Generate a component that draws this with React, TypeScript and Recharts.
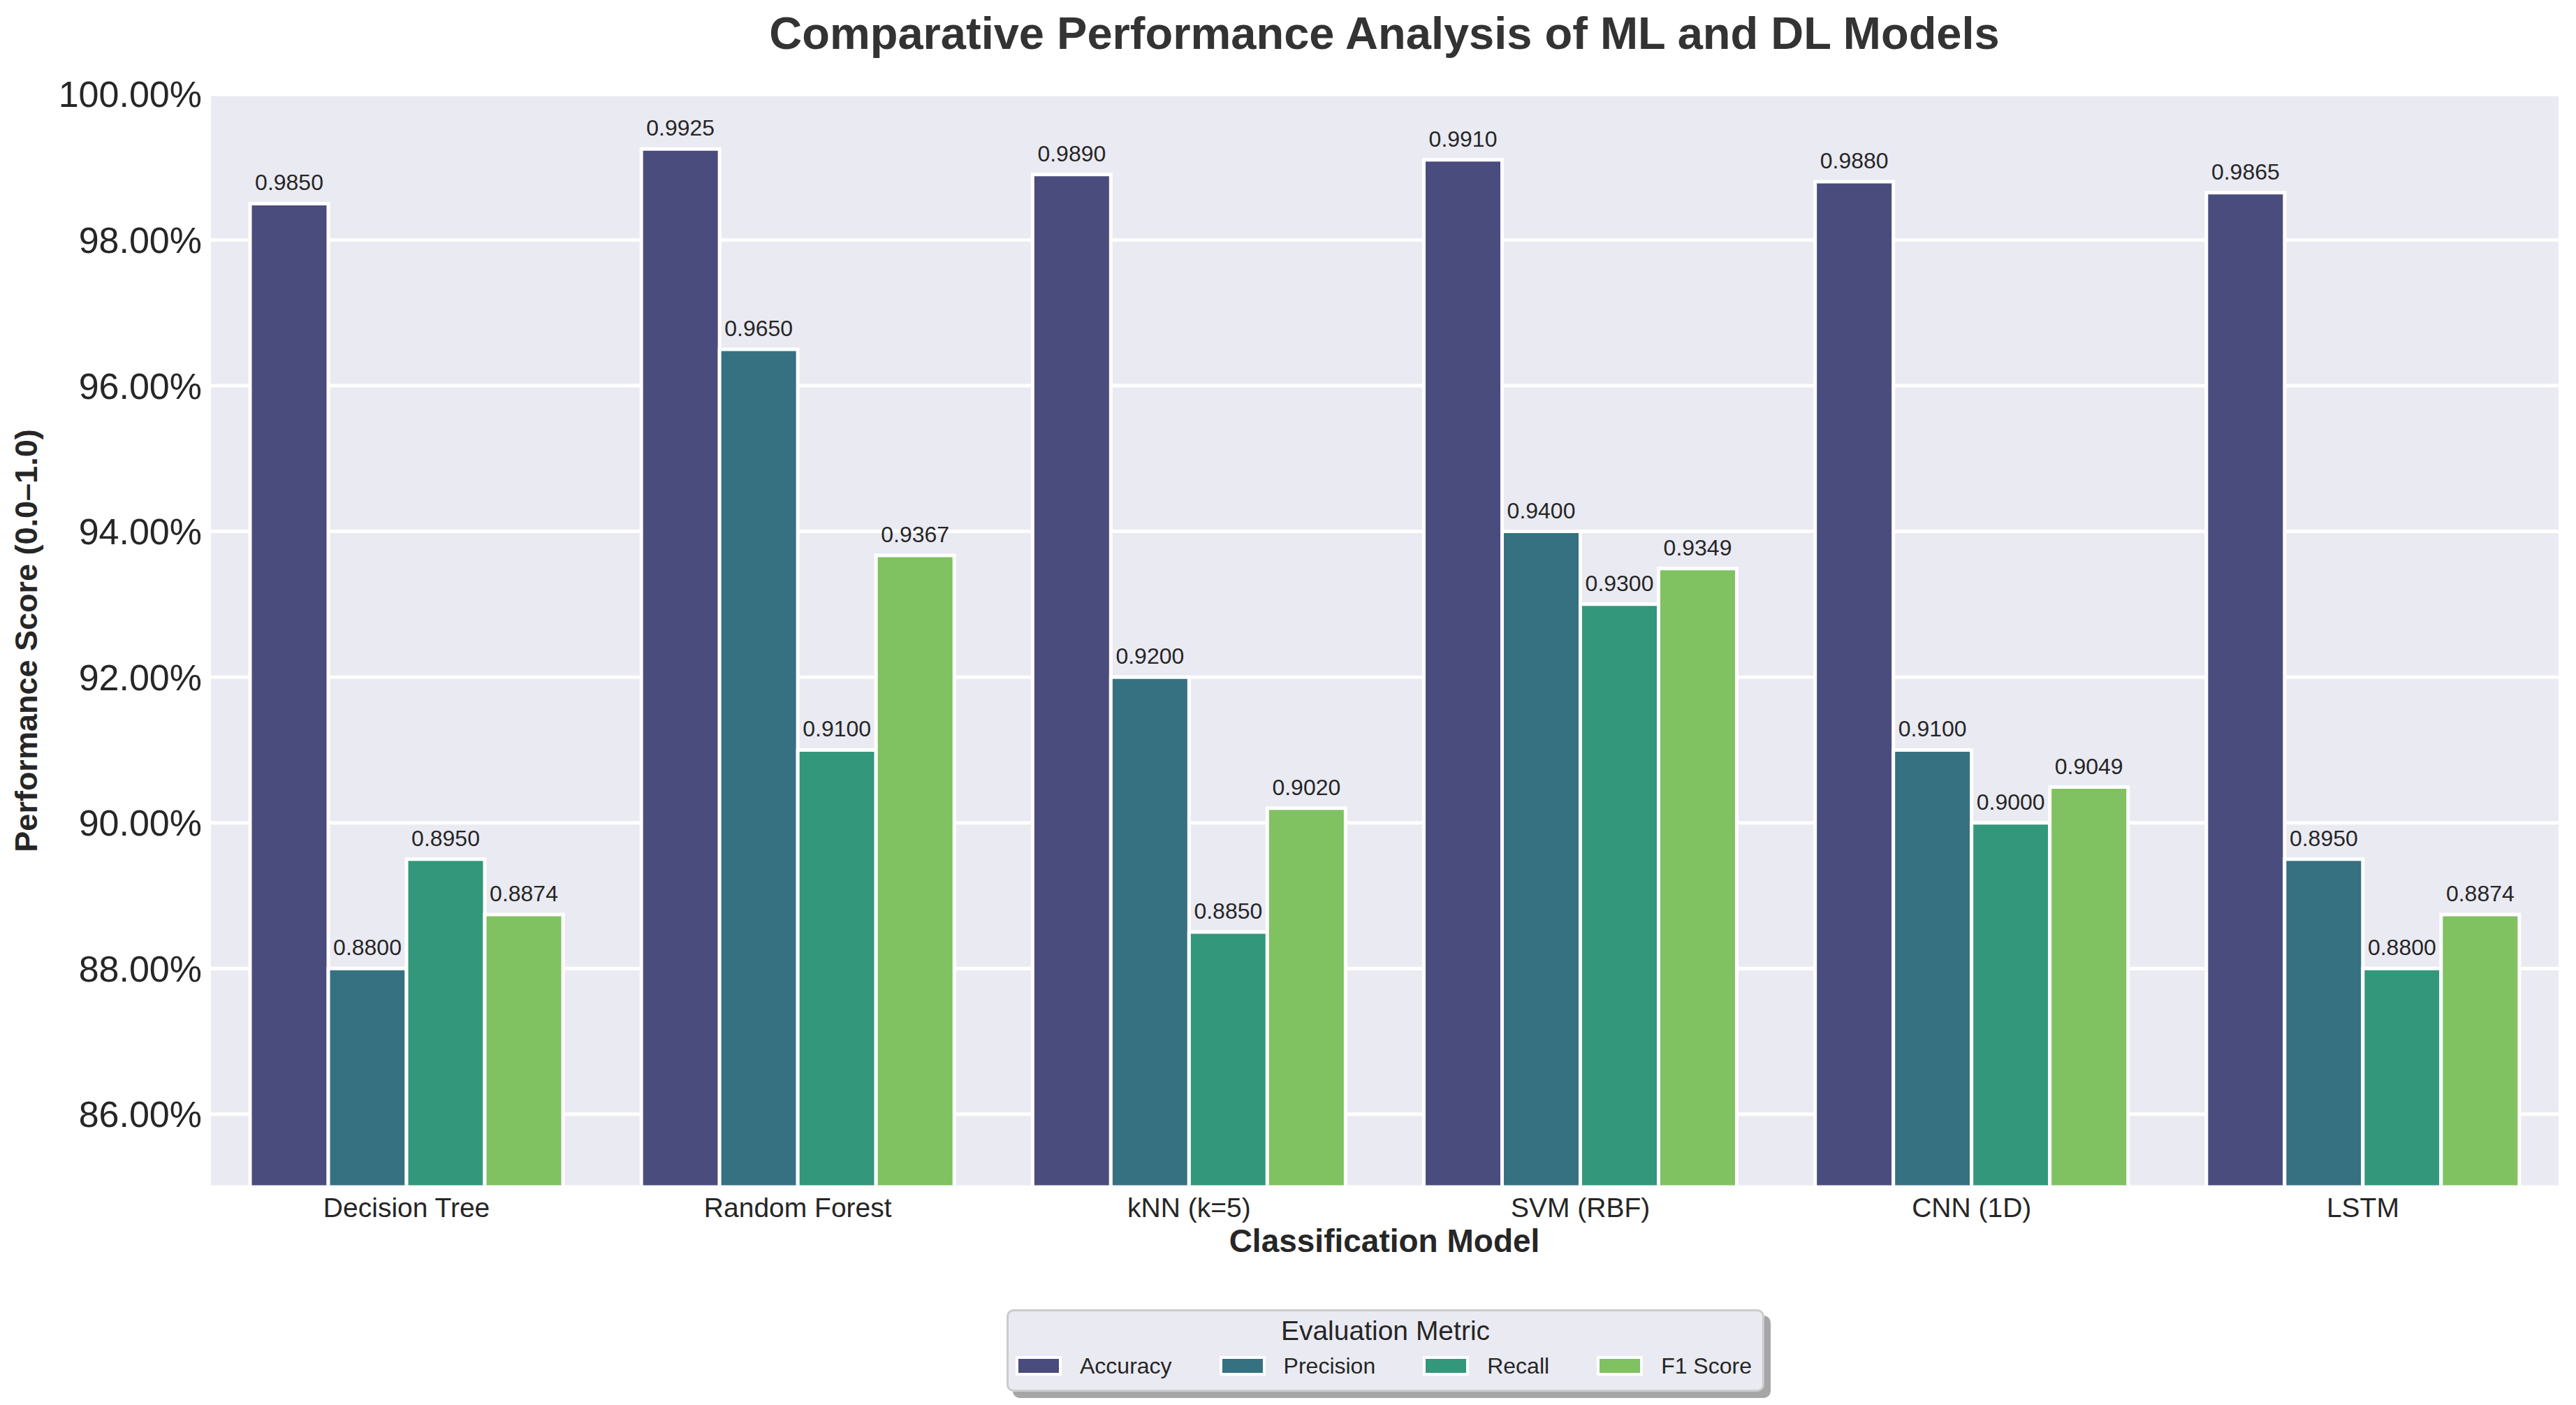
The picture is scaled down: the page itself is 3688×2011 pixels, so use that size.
import React from 'react';
import { BarChart, Bar, XAxis, YAxis, CartesianGrid, LabelList } from 'recharts';

const models = ['Decision Tree', 'Random Forest', 'kNN (k=5)', 'SVM (RBF)', 'CNN (1D)', 'LSTM'];
const metrics = ['Accuracy', 'Precision', 'Recall', 'F1 Score'];
const accuracy = [0.985, 0.9925, 0.989, 0.991, 0.988, 0.9865];
const precision = [0.88, 0.965, 0.92, 0.94, 0.91, 0.895];
const recall = [0.895, 0.91, 0.885, 0.93, 0.9, 0.88];
const f1Score = [0.8874, 0.9367, 0.902, 0.9349, 0.9049, 0.8874];
const yTicks = [0.86, 0.88, 0.9, 0.92, 0.94, 0.96, 0.98, 1.0];
const colors = ['#4a4c7e', '#367181', '#33977c', '#80c161'];

const chartTitle = 'Comparative Performance Analysis of ML and DL Models';
const xLabel = 'Classification Model';
const yLabel = 'Performance Score (0.0\u20131.0)';
const legendTitle = 'Evaluation Metric';

const seriesValues = [accuracy, precision, recall, f1Score];
const data = models.map((m, i) => {
  const row: Record<string, any> = { model: m };
  metrics.forEach((k, j) => {
    row[k] = seriesValues[j][i];
  });
  return row;
});

const FONT = '"Liberation Sans", Arial, Helvetica, sans-serif';
const W = 3688;
const H = 2011;

export default function App() {
  return (
    <div style={{ position: 'relative', width: W, height: H, background: '#ffffff', fontFamily: FONT }}>
      <style>{`body{margin:0;}`}</style>
      <BarChart
        width={W}
        height={H}
        data={data}
        margin={{ top: 135, right: 25, bottom: 0, left: 0 }}
        barCategoryGap="10%"
        barGap={0}
      >
        <CartesianGrid vertical={false} stroke="#ffffff" strokeWidth={5} fill="#EAEAF2" fillOpacity={1} />
        <XAxis
          dataKey="model"
          interval={0}
          height={312}
          axisLine={false}
          tickLine={false}
          tickSize={0}
          tickMargin={15}
          tick={{ fill: '#262626', fontSize: 39, fontFamily: FONT }}
        />
        <YAxis
          type="number"
          domain={[0.85, 1.0]}
          allowDataOverflow
          ticks={yTicks}
          width={302}
          axisLine={false}
          tickLine={false}
          tickSize={0}
          tickMargin={13}
          tickFormatter={(v: number) => (v * 100).toFixed(2) + '%'}
          tick={{ fill: '#262626', fontSize: 52, fontFamily: FONT }}
        />
        {metrics.map((k, j) => (
          <Bar key={k} dataKey={k} fill={colors[j]} stroke="#ffffff" strokeWidth={5} isAnimationActive={false}>
            <LabelList
              dataKey={k}
              position="top"
              offset={19}
              fill="#262626"
              fontSize={32}
              fontFamily={FONT}
              formatter={(v: any) => Number(v).toFixed(4)}
            />
          </Bar>
        ))}
      </BarChart>
      <svg
        width={W}
        height={H}
        style={{ position: 'absolute', left: 0, top: 0, pointerEvents: 'none' }}
      >
        <text x={1982} y={70} textAnchor="middle" fontSize={65} fontWeight="bold" fill="#333333" fontFamily={FONT}>
          {chartTitle}
        </text>
        <text x={1982} y={1792} textAnchor="middle" fontSize={46} fontWeight="bold" fill="#262626" fontFamily={FONT}>
          {xLabel}
        </text>
        <text
          transform="translate(53,917) rotate(-90)"
          x={0}
          y={0}
          textAnchor="middle"
          fontSize={45}
          fontWeight="bold"
          fill="#262626"
          fontFamily={FONT}
        >
          {yLabel}
        </text>
      </svg>
      <div
        style={{
          position: 'absolute',
          left: 1441,
          top: 1874,
          width: 1085,
          height: 118,
          boxSizing: 'border-box',
          border: '3px solid #cbcbcb',
          borderRadius: 10,
          background: '#EAEAF2',
          boxShadow: '9px 9px 0 #a6a6a6',
        }}
      >
        <div
          style={{
            position: 'absolute',
            left: 0,
            right: 0,
            top: 8,
            textAlign: 'center',
            fontSize: 39,
            lineHeight: '39px',
            color: '#262626',
            whiteSpace: 'nowrap',
          }}
        >
          {legendTitle}
        </div>
        <div
          style={{
            position: 'absolute',
            left: 10,
            top: 62,
            height: 32,
            display: 'flex',
            alignItems: 'center',
            whiteSpace: 'nowrap',
          }}
        >
          {metrics.map((k, j) => (
            <div key={k} style={{ display: 'flex', alignItems: 'center', marginRight: j < metrics.length - 1 ? 68 : 0 }}>
              <div
                style={{
                  width: 58,
                  height: 20,
                  background: colors[j],
                  border: '4px solid #ffffff',
                  marginRight: 26,
                }}
              />
              <span style={{ fontSize: 32, lineHeight: '32px', color: '#262626' }}>{k}</span>
            </div>
          ))}
        </div>
      </div>
    </div>
  );
}
